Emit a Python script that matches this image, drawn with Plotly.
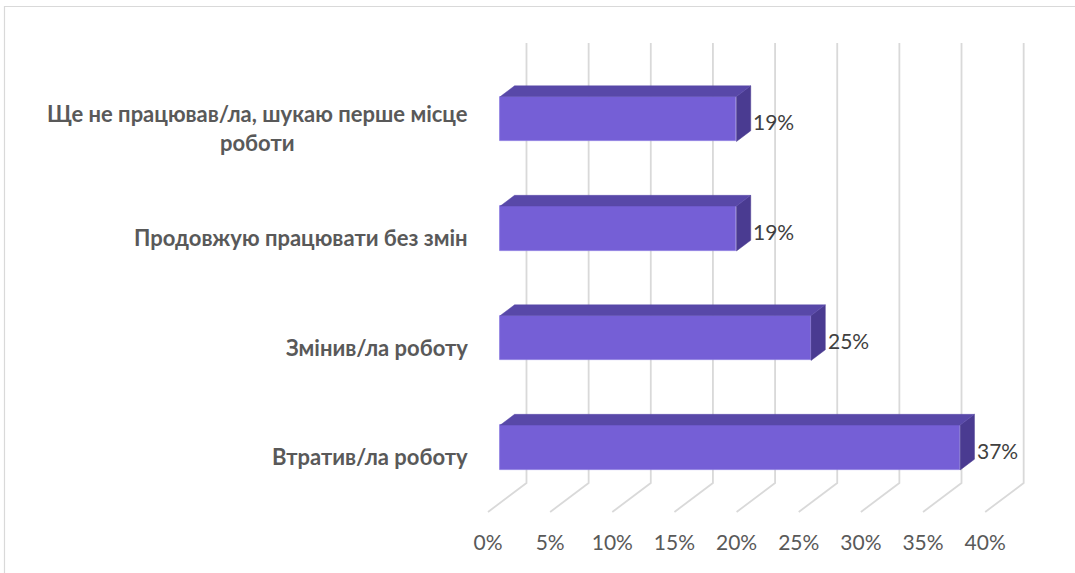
import plotly.graph_objects as go

# ---- data ----
categories = [
    "Втратив/ла роботу",
    "Змінив/ла роботу",
    "Продовжую працювати без змін",
    "Ще не працював/ла, шукаю перше місце<br>роботи",
]
values = [37, 25, 19, 19]
tick_values = [0, 5, 10, 15, 20, 25, 30, 35, 40]
tick_labels = ["0%", "5%", "10%", "15%", "20%", "25%", "30%", "35%", "40%"]

# ---- pseudo-3D style constants ----
SHIFT_X = 3.097     # x shift (in % units) from front plane to back wall
SHIFT_Y = 0.2648    # y shift (category units) from front plane to back wall
D_BACK, D_FRONT = 0.31, 0.68
HALF = 0.205
FLOOR_Y = -0.504
WALL_TOP = 3.514

C_FRONT = "#755fd6"
C_TOP = "#5848a8"
C_SIDE = "#4a3b91"
GRID = "#d9d9d9"
FONT = "Lato"

# plot area in page pixels (body margin removed via post_script)
L, R, T, B = 478, 1060, 30, 528
W, H = 1075, 573


def proj(v, y, d):
    return v + (1 - d) * SHIFT_X, y + (1 - d) * SHIFT_Y


fig = go.Figure()

# gridlines (back wall verticals + floor diagonals) as shapes below the bars
shapes = []
for t in tick_values:
    p1 = proj(t, WALL_TOP, 0)
    p2 = proj(t, FLOOR_Y, 0)
    p3 = proj(t, FLOOR_Y, 1)
    shapes.append(dict(type="path", xref="x", yref="y", layer="below",
                       path=f"M{p1[0]},{p1[1]} L{p2[0]},{p2[1]} L{p3[0]},{p3[1]}",
                       line=dict(color=GRID, width=1.8)))

# outer frame
shapes.append(dict(type="rect", xref="paper", yref="paper", layer="below",
                   x0=(4.5 - L) / (R - L), x1=(1090 - L) / (R - L),
                   y0=(B - 590) / (B - T), y1=(B - 6.5) / (B - T),
                   line=dict(color=GRID, width=1.2)))

# front faces
front_base, _ = proj(0, 0, D_FRONT)
fig.add_trace(go.Bar(
    orientation="h",
    x=values,
    base=[front_base] * len(values),
    y=[i + (1 - D_FRONT) * SHIFT_Y for i in range(len(values))],
    width=2 * HALF,
    marker=dict(color=C_FRONT, line=dict(color="#8a78e0", width=0.8)),
    hoverinfo="skip", showlegend=False,
))

# side & top faces
for i, v in enumerate(values):
    top, bot = i + HALF, i - HALF
    side = [proj(v, bot, D_FRONT), proj(v, top, D_FRONT),
            proj(v, top, D_BACK), proj(v, bot, D_BACK), proj(v, bot, D_FRONT)]
    fig.add_trace(go.Scatter(x=[p[0] for p in side], y=[p[1] for p in side],
                             fill="toself", fillcolor=C_SIDE, mode="lines",
                             line=dict(color=C_SIDE, width=0.5),
                             hoverinfo="skip", showlegend=False))
    topf = [proj(0, top, D_FRONT), proj(v, top, D_FRONT),
            proj(v, top, D_BACK), proj(0, top, D_BACK), proj(0, top, D_FRONT)]
    fig.add_trace(go.Scatter(x=[p[0] for p in topf], y=[p[1] for p in topf],
                             fill="toself", fillcolor=C_TOP, mode="lines",
                             line=dict(color=C_TOP, width=0.5),
                             hoverinfo="skip", showlegend=False))

annotations = []
# data labels
for i, v in enumerate(values):
    x_lab, _ = proj(v, 0, D_BACK)
    annotations.append(dict(x=x_lab + 0.05, y=i + 0.062, xref="x", yref="y",
                            text=f"{v}%", showarrow=False, xanchor="left",
                            yanchor="middle",
                            font=dict(family=FONT, size=21, color="#404040")))
# category labels (right edge at ~470 px)
label_x = (470 - L) / (R - L)
for i, c in enumerate(categories):
    txt = "<b>" + c.replace("<br>", "</b><br><b>") + "</b>"
    annotations.append(dict(x=label_x, y=i, xref="paper", yref="y", text=txt,
                            showarrow=False, xanchor="right", yanchor="middle",
                            align="center",
                            font=dict(family=FONT, size=22, color="#595959")))

fig.update_layout(
    width=W, height=H,
    margin=dict(l=L, r=W - R, t=T, b=H - B),
    paper_bgcolor="white", plot_bgcolor="white",
    annotations=annotations,
    shapes=shapes,
    xaxis=dict(range=[-0.8045, 46.02], tickvals=tick_values, ticktext=tick_labels,
               showgrid=False, zeroline=False, showline=False, ticks="",
               tickfont=dict(family=FONT, size=21, color="#595959"),
               fixedrange=True),
    yaxis=dict(range=[-0.6502, 3.8977], showgrid=False, zeroline=False,
               showline=False, showticklabels=False, fixedrange=True),
    bargap=0,
)

fig.write_html("out.html", config={"displayModeBar": False},
               post_script="document.body.style.margin='0px';")
